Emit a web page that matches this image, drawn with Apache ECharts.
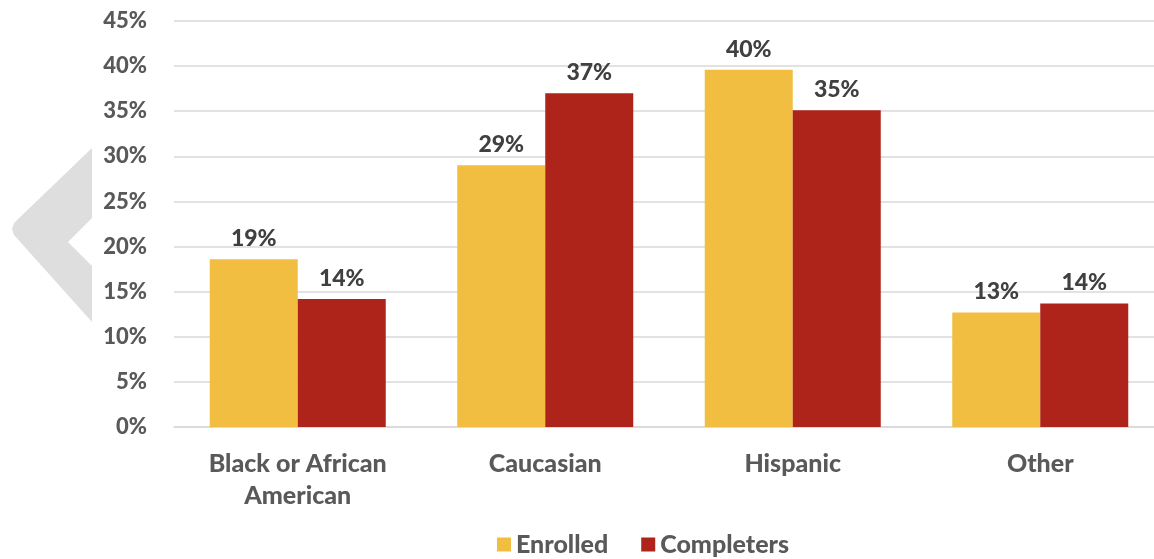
<!DOCTYPE html>
<html><head><meta charset="utf-8">
<script src="https://cdn.jsdelivr.net/npm/echarts@6/dist/echarts.min.js"></script>
<style>html,body{margin:0;padding:0;background:#fff}#c{width:1154px;height:559px}</style>
</head><body><div id="c"></div>
<script>
const categories = ['Black or African\nAmerican', 'Caucasian', 'Hispanic', 'Other'];
const enrolled = [18.6, 29.0, 39.6, 12.7];
const completers = [14.2, 37.0, 35.1, 13.7];
const seriesNames = ['Enrolled', 'Completers'];
const yTicks = { min: 0, max: 45, interval: 5 };

const FONT = 'Lato';
const W = 900;
const chart = echarts.init(document.getElementById('c'), null, { renderer: 'canvas' });
const labelCfg = {
  show: true, position: 'top', distance: 9,
  formatter: p => Math.round(p.value) + '%',
  color: '#404040', fontFamily: FONT, fontWeight: W, fontSize: 23
};
chart.setOption({
  animation: false,
  backgroundColor: '#fff',
  graphic: [{
    type: 'polygon', z: -10,
    shape: { points: [[92,148],[14,223],[12,229],[14,235],[92,322],[92,266],[68,242],[92,218]] },
    style: { fill: '#DEDEDE' }
  }],
  grid: { left: 174, right: -10, top: 21, bottom: 132, containLabel: false, outerBoundsMode: 'none' },
  legend: {
    bottom: -3, left: 492, itemWidth: 14, itemHeight: 14, itemGap: 33,
    icon: 'rect',
    textStyle: { color: '#595959', fontFamily: FONT, fontWeight: W, fontSize: 25 },
    data: seriesNames
  },
  xAxis: {
    type: 'category', data: categories,
    axisLine: { lineStyle: { color: '#D9D9D9', width: 1.5 } },
    axisTick: { show: false },
    axisLabel: { color: '#595959', fontFamily: FONT, fontWeight: W, fontSize: 25, lineHeight: 32, margin: 21, interval: 0 }
  },
  yAxis: {
    type: 'value', min: yTicks.min, max: yTicks.max, interval: yTicks.interval,
    axisLine: { show: false }, axisTick: { show: false },
    splitLine: { lineStyle: { color: '#D9D9D9', width: 1.5 } },
    axisLabel: { formatter: v => v + '%', color: '#595959', fontFamily: FONT, fontWeight: W, fontSize: 22, margin: 27 }
  },
  series: [
    { name: seriesNames[0], type: 'bar', data: enrolled, barWidth: 88, barGap: '0%', itemStyle: { color: '#F2BE42' }, label: labelCfg },
    { name: seriesNames[1], type: 'bar', data: completers, barWidth: 88, barGap: '0%', itemStyle: { color: '#AE231A' }, label: labelCfg }
  ]
});
</script></body></html>
